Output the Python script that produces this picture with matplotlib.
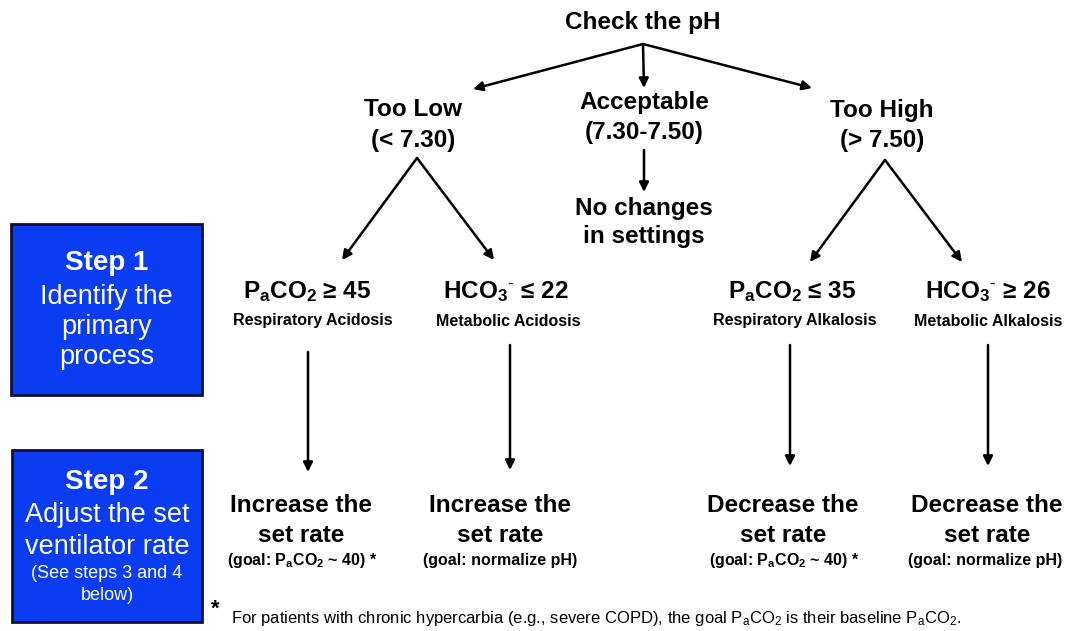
import matplotlib.pyplot as plt
from matplotlib.patches import Rectangle

plt.rcParams['font.family'] = ['Liberation Sans', 'DejaVu Sans']
plt.rcParams['mathtext.fontset'] = 'custom'
plt.rcParams['mathtext.rm'] = 'Liberation Sans'
plt.rcParams['mathtext.bf'] = 'Liberation Sans:bold'
plt.rcParams['mathtext.it'] = 'Liberation Sans:italic'

# text pieces with subscripts
PACO2_B = r'P$_{\mathbf{a}}$CO$_{\mathbf{2}}$'
HCO3_B = r'HCO$_{\mathbf{3}}$$^{\text{-}}$'
PACO2 = r'P$_{\mathrm{a}}$CO$_{\mathrm{2}}$'

# labels
root_label = 'Check the pH'
ph_labels = [['Too Low', '(< 7.30)'],
             ['Acceptable', '(7.30-7.50)'],
             ['Too High', '(> 7.50)']]
no_change_label = ['No changes', 'in settings']
process_labels = [PACO2_B + ' ≥ 45', HCO3_B + ' ≤ 22',
                  PACO2_B + ' ≤ 35', HCO3_B + ' ≥ 26']
process_names = ['Respiratory Acidosis', 'Metabolic Acidosis',
                 'Respiratory Alkalosis', 'Metabolic Alkalosis']
action_labels = [['Increase the', 'set rate'], ['Increase the', 'set rate'],
                 ['Decrease the', 'set rate'], ['Decrease the', 'set rate']]
goal_labels = ['(goal: ' + PACO2_B + ' ~ 40) *', '(goal: normalize pH)',
               '(goal: ' + PACO2_B + ' ~ 40) *', '(goal: normalize pH)']
step_titles = ['Step 1', 'Step 2']
step_lines = [['Identify the', 'primary', 'process'],
              ['Adjust the set', 'ventilator rate', '(See steps 3 and 4', 'below)']]
footnote = ('For patients with chronic hypercarbia (e.g., severe COPD), the goal '
            + PACO2 + ' is their baseline ' + PACO2 + '.')

# layout (pixel coordinates, y down)
root_xy = (643, 23)
root_origin = (643, 44)
ph_x = [413, 644, 882]
ph_y = [(110, 141), (103, 133), (111, 140)]
top_tips = [(473, 89), (644, 88), (812, 88)]
apexes = [(417, 158), (885, 160)]
split_tips = [[(342, 260), (494, 260)], [(810, 262), (962, 262)]]
proc_x = [307, 506, 792, 988]
name_x = [313, 508, 795, 988]
down_x = [308, 510, 790, 988]
down_y = [(352, 472), (345, 470), (345, 466), (345, 466)]
act_x = [301, 500, 783, 987]
goal_x = [302, 500, 784, 985]
boxes = [(11, 224, 191, 171), (12, 450, 190, 172)]
step_y = [[263, 297, 327, 357], [482, 515, 547, 574, 596]]
step_sizes = [[19.5, 19.5, 19.5], [19.5, 19.5, 13, 13]]

fig = plt.figure(figsize=(10.68, 6.31), dpi=100)
ax = fig.add_axes([0, 0, 1, 1])
ax.set_xlim(0, 1068)
ax.set_ylim(631, 0)
ax.axis('off')

arrow = dict(arrowstyle='-|>', lw=1.8, color='black', mutation_scale=14,
             shrinkA=0, shrinkB=0)


def draw_arrow(start, end):
    ax.annotate('', xy=end, xytext=start, arrowprops=arrow)


bold_big = dict(fontsize=17.5, fontweight='bold', ha='center', va='center')
bold_small = dict(fontsize=11.5, fontweight='bold', ha='center', va='center')

# root and pH ranges
ax.text(*root_xy, root_label, **bold_big)
for tip in top_tips:
    draw_arrow(root_origin, tip)
for x, (y1, y2), lines in zip(ph_x, ph_y, ph_labels):
    ax.text(x, y1, lines[0], **bold_big)
    ax.text(x, y2, lines[1], **bold_big)

# acceptable branch
draw_arrow((644, 150), (644, 192))
ax.text(644, 208, no_change_label[0], **bold_big)
ax.text(644, 237, no_change_label[1], **bold_big)

# splits
for apex, tips in zip(apexes, split_tips):
    for tip in tips:
        draw_arrow(apex, tip)

# processes and actions
for i in range(4):
    ax.text(proc_x[i], 292, process_labels[i], **bold_big)
    ax.text(name_x[i], 321, process_names[i], **bold_small)
    draw_arrow((down_x[i], down_y[i][0]), (down_x[i], down_y[i][1]))
    ax.text(act_x[i], 505, action_labels[i][0], **bold_big)
    ax.text(act_x[i], 535, action_labels[i][1], **bold_big)
    ax.text(goal_x[i], 561, goal_labels[i], **bold_small)

# step boxes
for (x, y, w, h), title, lines, ys, sizes in zip(boxes, step_titles, step_lines,
                                                 step_y, step_sizes):
    ax.add_patch(Rectangle((x, y), w, h, facecolor='#0a3cf2', edgecolor='#111133', lw=2))
    cx = x + w / 2
    ax.text(cx, ys[0], title, color='white', fontsize=20, fontweight='bold',
            ha='center', va='center')
    for line, ly, size in zip(lines, ys[1:], sizes):
        ax.text(cx, ly, line, color='white', fontsize=size, ha='center', va='center')

# footnote
ax.text(215, 609, '*', fontsize=16, fontweight='bold', ha='center', va='center')
ax.text(231, 619, footnote, fontsize=12, ha='left', va='center')

fig.savefig('out.png', dpi=100)
